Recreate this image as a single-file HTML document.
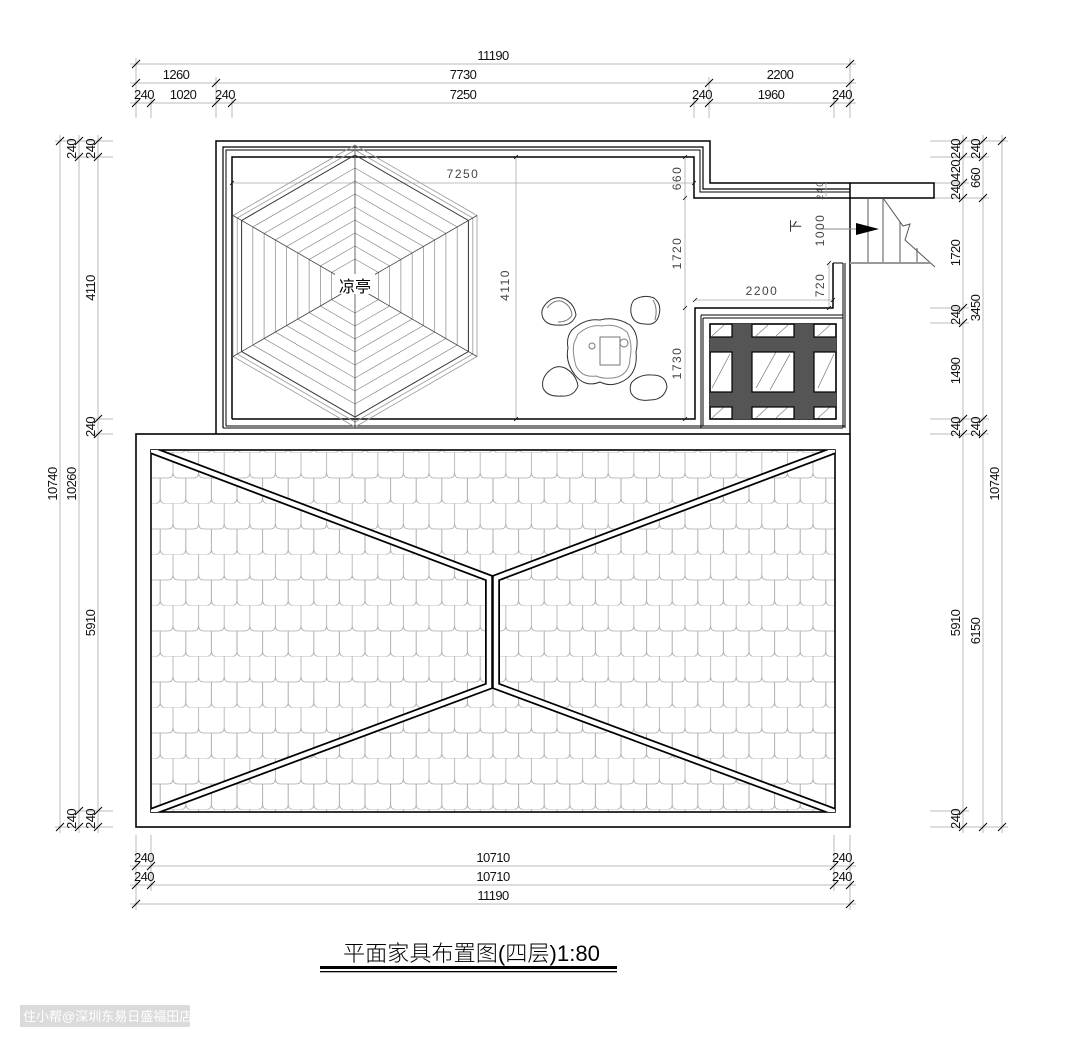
<!DOCTYPE html>
<html><head><meta charset="utf-8"><style>
html,body{margin:0;padding:0;background:#fff;}
svg{display:block;}
text{font-family:"Liberation Sans","Noto Sans CJK SC",sans-serif;}
</style></head><body>
<svg width="1080" height="1047" viewBox="0 0 1080 1047" xmlns="http://www.w3.org/2000/svg">
<defs>
<pattern id="tiles" patternUnits="userSpaceOnUse" x="173" y="452.5" width="25.6" height="51">
<g fill="none" stroke="#aaa" stroke-width="0.8">
<path d="M0,0 V20 Q0,25.5 5,25.5 H20.6 Q25.6,25.5 25.6,20 V0"/>
<path d="M12.8,25.5 V45.5 Q12.8,51 17.8,51 H33.4 Q38.4,51 38.4,45.5 V25.5"/>
<path d="M-12.8,25.5 V45.5 Q-12.8,51 -7.8,51 H7.8 Q12.8,51 12.8,45.5 V25.5"/>
</g>
</pattern>
<clipPath id="roofclip"><rect x="151" y="450" width="684" height="362"/></clipPath>
</defs>

<!-- ============ DIMENSIONS ============ -->
<g stroke="#bbb" stroke-width="1" fill="none">
<!-- top -->
<line x1="130" y1="64" x2="856" y2="64"/>
<line x1="130" y1="83" x2="856" y2="83"/>
<line x1="130" y1="103" x2="856" y2="103"/>
<line x1="136" y1="58" x2="136" y2="118"/><line x1="850" y1="58" x2="850" y2="118"/>
<line x1="216" y1="77" x2="216" y2="118"/><line x1="709" y1="77" x2="709" y2="118"/>
<line x1="151" y1="97" x2="151" y2="118"/><line x1="232" y1="97" x2="232" y2="118"/>
<line x1="694" y1="97" x2="694" y2="118"/><line x1="834" y1="97" x2="834" y2="118"/>
<!-- left -->
<line x1="60" y1="135" x2="60" y2="833"/>
<line x1="79" y1="135" x2="79" y2="833"/>
<line x1="98" y1="135" x2="98" y2="833"/>
<line x1="55" y1="141" x2="113" y2="141"/><line x1="74" y1="157" x2="113" y2="157"/>
<line x1="93" y1="419" x2="113" y2="419"/><line x1="93" y1="434" x2="113" y2="434"/>
<line x1="74" y1="811" x2="113" y2="811"/><line x1="55" y1="827" x2="113" y2="827"/>
<!-- right -->
<line x1="963" y1="135" x2="963" y2="833"/>
<line x1="983" y1="135" x2="983" y2="833"/>
<line x1="1002" y1="135" x2="1002" y2="833"/>
<line x1="930" y1="141" x2="1008" y2="141"/><line x1="930" y1="157" x2="989" y2="157"/>
<line x1="930" y1="183" x2="969" y2="183"/><line x1="930" y1="198" x2="989" y2="198"/>
<line x1="930" y1="308" x2="969" y2="308"/><line x1="930" y1="323" x2="969" y2="323"/>
<line x1="930" y1="419" x2="989" y2="419"/><line x1="930" y1="434" x2="989" y2="434"/>
<line x1="930" y1="811" x2="969" y2="811"/><line x1="930" y1="827" x2="1008" y2="827"/>
<!-- bottom -->
<line x1="130" y1="866" x2="856" y2="866"/>
<line x1="130" y1="885" x2="856" y2="885"/>
<line x1="130" y1="904" x2="856" y2="904"/>
<line x1="136" y1="835" x2="136" y2="910"/><line x1="850" y1="835" x2="850" y2="910"/>
<line x1="151" y1="835" x2="151" y2="891"/><line x1="834" y1="835" x2="834" y2="891"/>
</g>

<!-- ticks -->
<g stroke="#000" stroke-width="1">
<path d="M132,68 l8,-8 M846,68 l8,-8
M132,87 l8,-8 M212,87 l8,-8 M705,87 l8,-8 M846,87 l8,-8
M132,107 l8,-8 M147,107 l8,-8 M212,107 l8,-8 M228,107 l8,-8 M690,107 l8,-8 M705,107 l8,-8 M830,107 l8,-8 M846,107 l8,-8
M56,145 l8,-8 M56,831 l8,-8
M75,145 l8,-8 M75,161 l8,-8 M75,815 l8,-8 M75,831 l8,-8
M94,145 l8,-8 M94,161 l8,-8 M94,423 l8,-8 M94,438 l8,-8 M94,815 l8,-8 M94,831 l8,-8
M959,145 l8,-8 M959,161 l8,-8 M959,187 l8,-8 M959,202 l8,-8 M959,312 l8,-8 M959,327 l8,-8 M959,423 l8,-8 M959,438 l8,-8 M959,815 l8,-8 M959,831 l8,-8
M979,145 l8,-8 M979,161 l8,-8 M979,202 l8,-8 M979,423 l8,-8 M979,438 l8,-8 M979,831 l8,-8
M998,145 l8,-8 M998,831 l8,-8
M132,870 l8,-8 M147,870 l8,-8 M830,870 l8,-8 M846,870 l8,-8
M132,889 l8,-8 M147,889 l8,-8 M830,889 l8,-8 M846,889 l8,-8
M132,908 l8,-8 M846,908 l8,-8"/>
</g>

<!-- dimension text -->
<g font-size="13" fill="#111" text-anchor="middle" letter-spacing="-0.6">
<text x="493" y="60">11190</text>
<text x="176" y="79">1260</text><text x="463" y="79">7730</text><text x="780" y="79">2200</text>
<text x="144" y="99">240</text><text x="183" y="99">1020</text><text x="225" y="99">240</text>
<text x="463" y="99">7250</text><text x="702" y="99">240</text><text x="771" y="99">1960</text><text x="842" y="99">240</text>

<text transform="translate(57,484) rotate(-90)">10740</text>
<text transform="translate(76,149) rotate(-90)">240</text>
<text transform="translate(76,484) rotate(-90)">10260</text>
<text transform="translate(76,819) rotate(-90)">240</text>
<text transform="translate(95,149) rotate(-90)">240</text>
<text transform="translate(95,288) rotate(-90)">4110</text>
<text transform="translate(95,427) rotate(-90)">240</text>
<text transform="translate(95,623) rotate(-90)">5910</text>
<text transform="translate(95,819) rotate(-90)">240</text>

<text transform="translate(960,149) rotate(-90)">240</text>
<text transform="translate(960,170) rotate(-90)">420</text>
<text transform="translate(960,190) rotate(-90)">240</text>
<text transform="translate(960,253) rotate(-90)">1720</text>
<text transform="translate(960,315) rotate(-90)">240</text>
<text transform="translate(960,371) rotate(-90)">1490</text>
<text transform="translate(960,427) rotate(-90)">240</text>
<text transform="translate(960,623) rotate(-90)">5910</text>
<text transform="translate(960,819) rotate(-90)">240</text>
<text transform="translate(980,149) rotate(-90)">240</text>
<text transform="translate(980,178) rotate(-90)">660</text>
<text transform="translate(980,308) rotate(-90)">3450</text>
<text transform="translate(980,427) rotate(-90)">240</text>
<text transform="translate(980,631) rotate(-90)">6150</text>
<text transform="translate(999,484) rotate(-90)">10740</text>

<text x="144" y="862">240</text><text x="493" y="862">10710</text><text x="842" y="862">240</text>
<text x="144" y="881">240</text><text x="493" y="881">10710</text><text x="842" y="881">240</text>
<text x="493" y="900">11190</text>
</g>

<!-- ============ LOWER ROOF ============ -->
<rect x="136" y="434" width="714" height="393" fill="#fff" stroke="#000" stroke-width="1.6"/>
<rect x="151" y="450" width="684" height="362" fill="url(#tiles)" stroke="#000" stroke-width="1.6"/>
<g clip-path="url(#roofclip)" fill="none" stroke-linejoin="miter">
<path d="M151,450 L489,578 V686 L151,812 M835,450 L496,578 V686 L835,812" stroke="#000" stroke-width="8"/>
<path d="M151,450 L489,578 V686 L151,812 M835,450 L496,578 V686 L835,812" stroke="#fff" stroke-width="4.5"/>
</g>

<!-- ============ UPPER BLOCK ============ -->
<g fill="none" stroke="#000" stroke-width="1.5">
<path d="M216,434 V141 H710 V183 H850"/>
<rect x="850" y="183" width="84" height="15"/>
<path d="M223,428 V147 H703 V189 H850" stroke-width="1.2"/>
<path d="M226,426 V150 H700 V192 H850" stroke-width="1"/>
<path d="M232,419 V157 H694 V198 H850"/>
<path d="M850,198 V434"/>
<path d="M843,263 V428 M845,263 V428" stroke-width="1"/>
<path d="M833,263 H843" stroke-width="1"/>
<path d="M833,263 V308 H695 V419 H232"/>
<path d="M226,426 H845 M223,428 H843" stroke-width="1"/>
<path d="M701,315 H843 M703,318 H843 M701,315 V428 M703,318 V426" stroke-width="1"/>
</g>

<!-- grate -->
<g>
<rect x="710" y="324" width="126" height="95" fill="#fff" stroke="#000" stroke-width="1.5"/>
<g fill="#555">
<rect x="732" y="324" width="20" height="95"/><rect x="794" y="324" width="20" height="95"/>
<rect x="710" y="337" width="126" height="15"/><rect x="710" y="392" width="126" height="15"/>
</g>
<g stroke="#888" stroke-width="0.8">
<path d="M712,336 l12,-11 M756,336 l12,-11 M776,336 l12,-11 M818,336 l12,-11
M712,388 l18,-34 M756,388 l20,-36 M770,390 l20,-36 M818,388 l16,-34
M712,418 l12,-11 M756,418 l12,-11 M776,418 l12,-11 M818,418 l12,-11"/>
</g>
<g fill="none" stroke="#000" stroke-width="1.2">
<rect x="710" y="324" width="22" height="13"/><rect x="752" y="324" width="42" height="13"/><rect x="814" y="324" width="22" height="13"/>
<rect x="710" y="352" width="22" height="40"/><rect x="752" y="352" width="42" height="40"/><rect x="814" y="352" width="22" height="40"/>
<rect x="710" y="407" width="22" height="12"/><rect x="752" y="407" width="42" height="12"/><rect x="814" y="407" width="22" height="12"/>
</g>
</g>

<!-- stair -->
<g stroke="#555" stroke-width="1" fill="none">
<path d="M868,198 V263 M883,198 V263 M900,222 V263 M917,248 V263"/>
<path d="M883,198 L903,226 L910,224 L905,240 L935,267"/>
</g>
<line x1="850" y1="263" x2="930" y2="263" stroke="#999" stroke-width="2"/>
<line x1="820" y1="229" x2="858" y2="229" stroke="#888" stroke-width="1"/>
<path d="M856,223 L879,229 L856,235 Z" fill="#000"/>
<text transform="translate(800,226) rotate(-90)" font-size="13" text-anchor="middle" fill="#333">下</text>

<!-- interior dims -->
<g stroke="#aaa" stroke-width="0.8" fill="none">
<line x1="232" y1="183" x2="694" y2="183"/>
<line x1="516" y1="157" x2="516" y2="419"/>
<line x1="685" y1="157" x2="685" y2="419"/>
<line x1="695" y1="300" x2="833" y2="300"/>
<line x1="829" y1="263" x2="829" y2="308"/>
<line x1="826" y1="183" x2="826" y2="198"/>
</g>
<g stroke="#000" stroke-width="0.8">
<path d="M230,185 l4,-4 M692,185 l4,-4 M514,159 l4,-4 M514,421 l4,-4 M683,159 l4,-4 M683,200 l4,-4 M683,310 l4,-4 M683,421 l4,-4 M693,302 l4,-4 M831,302 l4,-4 M827,265 l4,-4 M827,310 l4,-4"/>
</g>
<g font-family="Liberation Mono, monospace" font-size="12" fill="#444" text-anchor="middle" letter-spacing="1.5">
<text x="463" y="178">7250</text>
<text x="762" y="295">2200</text>
<text transform="translate(509,285) rotate(-90)">4110</text>
<text transform="translate(681,178) rotate(-90)">660</text>
<text transform="translate(681,253) rotate(-90)">1720</text>
<text transform="translate(681,363) rotate(-90)">1730</text>
<text transform="translate(824,285) rotate(-90)">720</text>
<text transform="translate(824,230) rotate(-90)">1000</text>
<text transform="translate(823,190) rotate(-90)" font-size="9">240</text>
</g>

<!-- hexagon pavilion -->
<g fill="none" transform="translate(355,286)">
<g stroke="#999" stroke-width="0.8">
<polygon points="0,-141 122,-70.5 122,70.5 0,141 -122,70.5 -122,-70.5"/>
<polygon points="0,-136 117.8,-68 117.8,68 0,136 -117.8,68 -117.8,-68"/>
</g>
<polygon points="0,-131 113.4,-65.5 113.4,65.5 0,131 -113.4,65.5 -113.4,-65.5" stroke="#333" stroke-width="1"/>
<g stroke="#888" stroke-width="0.7">
<polygon points="0,-118 102.2,-59 102.2,59 0,118 -102.2,59 -102.2,-59"/>
<polygon points="0,-105 90.9,-52.5 90.9,52.5 0,105 -90.9,52.5 -90.9,-52.5"/>
<polygon points="0,-92 79.7,-46 79.7,46 0,92 -79.7,46 -79.7,-46"/>
<polygon points="0,-79 68.4,-39.5 68.4,39.5 0,79 -68.4,39.5 -68.4,-39.5"/>
<polygon points="0,-66 57.2,-33 57.2,33 0,66 -57.2,33 -57.2,-33"/>
<polygon points="0,-53 45.9,-26.5 45.9,26.5 0,53 -45.9,26.5 -45.9,-26.5"/>
<polygon points="0,-40 34.6,-20 34.6,20 0,40 -34.6,20 -34.6,-20"/>
<polygon points="0,-27 23.4,-13.5 23.4,13.5 0,27 -23.4,13.5 -23.4,-13.5"/>
</g>
<path d="M0,-141 V141 M-122,-70.5 L122,70.5 M122,-70.5 L-122,70.5" stroke="#444" stroke-width="0.8"/>
<rect x="-20" y="-12" width="40" height="20" fill="#fff" stroke="none"/>
</g>
<text x="355" y="292" font-size="16" text-anchor="middle" fill="#000" font-family="Liberation Sans, Noto Sans CJK SC, sans-serif">凉亭</text>

<!-- stones and tea table -->
<g fill="#fff" stroke="#333" stroke-width="1">
<path d="M545,305 Q552,296 562,298 Q574,302 576,315 Q572,326 560,325 Q547,326 543,318 Q540,311 545,305 Z"/>
<path d="M547,308 Q553,300 561,301 Q571,305 572,315 Q568,322 558,322" fill="none" stroke="#777"/>
<path d="M634,300 Q644,294 654,298 Q662,304 659,315 Q656,326 645,324 Q633,324 631,313 Q630,305 634,300 Z"/>
<path d="M653,300 Q658,308 655,320" fill="none" stroke="#777"/>
<path d="M548,372 Q556,364 565,368 Q576,374 578,386 Q574,397 561,396 Q547,397 543,388 Q541,379 548,372 Z"/>
<path d="M632,382 Q640,374 652,375 Q666,375 667,387 Q664,400 650,400 Q636,402 631,393 Q629,387 632,382 Z"/>
<path d="M572,330 Q585,318 600,320 Q615,316 630,325 Q640,335 636,352 Q638,372 625,380 Q612,388 600,382 Q585,388 575,375 Q565,362 568,348 Q566,337 572,330 Z"/>
<path d="M578,334 Q590,324 602,326 Q616,323 627,332 Q633,344 630,358 Q630,372 618,377 Q605,380 596,376 Q582,378 576,366 Q572,352 574,343 Z" fill="none" stroke="#888"/>
<rect x="600" y="337" width="20" height="28" fill="none" stroke="#777"/>
<circle cx="592" cy="346" r="3" fill="none" stroke="#777"/>
<circle cx="624" cy="343" r="4" fill="none" stroke="#777"/>
</g>

<!-- title -->
<text x="343" y="961" font-size="22" textLength="257" lengthAdjust="spacingAndGlyphs" fill="#000" font-family="Liberation Sans, Noto Sans CJK SC, sans-serif" font-weight="300">平面家具布置图(四层)1:80</text>
<rect x="320" y="966" width="297" height="3" fill="#000"/>
<rect x="320" y="971" width="297" height="1.3" fill="#000"/>

<!-- watermark -->
<rect x="20" y="1005" width="170" height="22" fill="#ccc" opacity="0.7"/>
<text x="23" y="1021" font-size="13" fill="#fff" font-family="Liberation Sans, Noto Sans CJK SC, sans-serif">住小帮@深圳东易日盛福田店</text>
</svg>
</body></html>
